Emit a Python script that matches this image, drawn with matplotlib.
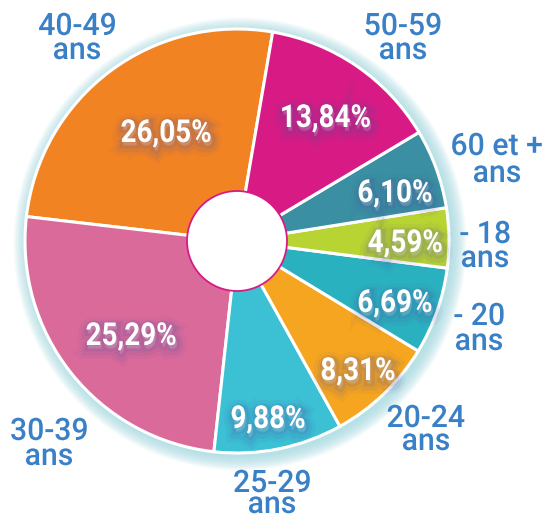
import matplotlib
matplotlib.use("Agg")
import matplotlib.pyplot as plt
import matplotlib.patheffects as pe
from matplotlib.patches import Circle, PathPatch
from matplotlib.textpath import TextPath
from matplotlib.font_manager import FontProperties
from matplotlib.transforms import Affine2D

# ---------------- data ----------------
categories = ["40-49", "30-39", "25-29", "20-24", "- 20", "- 18", "60 et +", "50-59"]
shares = [26.05, 25.29, 9.88, 8.31, 6.69, 4.59, 6.10, 13.84]
pct_labels = ["26,05%", "25,29%", "9,88%", "8,31%", "6,69%", "4,59%", "6,10%", "13,84%"]
unit_label = "ans"

# ---------------- style ----------------
colors = ["#F28323", "#DA6A9A", "#3BC0D4", "#F5A51F", "#2AB1BF", "#B8D432", "#3A90A2", "#D81B84"]
label_blue = "#3A80C6"
fp_pct = FontProperties(family="Roboto", weight="bold")
fp_out = FontProperties(family="Roboto", weight="medium")

W, H = 542, 517
fig = plt.figure(figsize=(W / 100, H / 100), dpi=100)
ax = fig.add_axes([0, 0, 1, 1])

cx, cy_px, R = 237, 241, 212
cy = H - cy_px

# soft cyan glow behind the pie
for i in range(16, 0, -1):
    ax.add_patch(Circle((cx + 3, cy - 3), R + i * 0.9, facecolor="#9fd9e0",
                        edgecolor="none", alpha=0.07, zorder=0))

wedges, _ = ax.pie(shares, colors=colors, startangle=80.3, counterclock=True,
                   center=(cx, cy), radius=R, frame=True,
                   wedgeprops=dict(edgecolor="white", linewidth=2.2))
ax.set_xlim(0, W)
ax.set_ylim(0, H)
ax.set_aspect("equal")
ax.axis("off")

ax.add_patch(Circle((cx, cy), 50, facecolor="white", edgecolor="#D81B84",
                    linewidth=1.3, zorder=5))


def natural_width(s, fp, size):
    ext = TextPath((0, 0), s, size=size, prop=fp).get_extents()
    return ext.x1 - ext.x0


def draw_text(s, xc, baseline_px, fp, size, sx, color, effects=None):
    tp = TextPath((0, 0), s, size=size, prop=fp)
    ext = tp.get_extents()
    w = (ext.x1 - ext.x0) * sx
    tr = Affine2D().translate(-ext.x0, 0).scale(sx, 1).translate(xc - w / 2, H - baseline_px)
    path = tr.transform_path(tp)
    patch = PathPatch(path, facecolor=color, edgecolor="none", zorder=10,
                      path_effects=effects)
    ax.add_patch(patch)


CAP = 0.711  # Roboto cap-height ratio
size_pct = 22.5 / CAP
size_out = 22 / CAP
sx_pct = 89 / natural_width("26,05%", fp_pct, size_pct)
sx_out = 76 / natural_width("40-49", fp_out, size_out)

# percent label anchors (centre x, baseline), pixel coords from top-left
pct_pos = [(166, 142), (131, 345), (268, 428), (358, 380), (395, 312),
           (405, 252), (395, 202), (326, 127)]
shadow = [pe.Stroke(offset=(1, -3), linewidth=14, foreground="#4a4a9a", alpha=0.05),
          pe.Stroke(offset=(1, -3), linewidth=9, foreground="#4a4a9a", alpha=0.09),
          pe.Stroke(offset=(1, -2), linewidth=5, foreground="#4a4a9a", alpha=0.12),
          pe.Normal()]
for txt, (x, y) in zip(pct_labels, pct_pos):
    draw_text(txt, x, y, fp_pct, size_pct, sx_pct, "white", shadow)

# outer category labels: (centre x, baseline of name, baseline of "ans")
out_pos = [(77, 35, 59), (49, 440, 465), (272, 492, 513), (426, 427, 450),
           (479, 325, 350), (485, 243, 267), (497, 155, 182), (403, 35, 59)]
for txt, (x, y1, y2) in zip(categories, out_pos):
    draw_text(txt, x, y1, fp_out, size_out, sx_out, label_blue)
    draw_text(unit_label, x, y2, fp_out, size_out, sx_out, label_blue)

fig.savefig("out.png", dpi=100, facecolor="white")
